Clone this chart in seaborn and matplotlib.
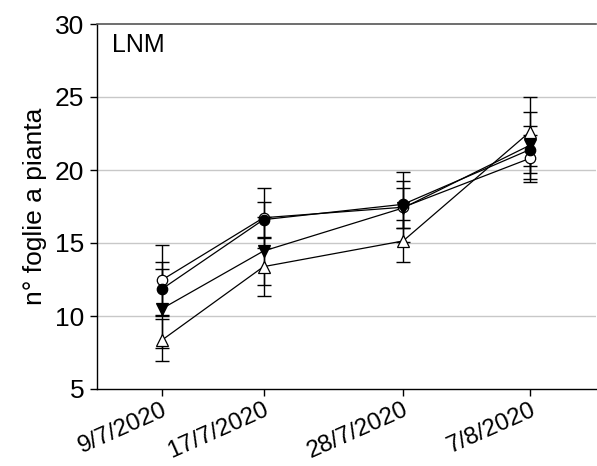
import matplotlib
matplotlib.use("Agg")
import matplotlib.pyplot as plt
import matplotlib.dates as mdates
import seaborn as sns
import pandas as pd
import numpy as np

# ---- data ----
dates = ["2020-07-09", "2020-07-17", "2020-07-28", "2020-08-07"]
tick_labels = ["9/7/2020", "17/7/2020", "28/7/2020", "7/8/2020"]

open_circle = [12.47, 16.73, 17.45, 20.8]
open_circle_err = [2.4, 2.07, 2.4, 1.6]
filled_circle = [11.85, 16.6, 17.65, 21.4]
filled_circle_err = [1.85, 1.23, 1.6, 1.6]
down_triangle = [10.5, 14.45, 17.4, 21.7]
down_triangle_err = [2.7, 2.35, 1.4, 2.3]
up_triangle = [8.35, 13.38, 15.14, 22.62]
up_triangle_err = [1.45, 2.0, 1.42, 2.35]

ylabel = "n° foglie a pianta"
panel_label = "LNM"

sns.set_style("ticks")
plt.rcParams["font.family"] = ["Liberation Sans", "DejaVu Sans"]
plt.rcParams["text.color"] = "black"
plt.rcParams["axes.labelcolor"] = "black"
plt.rcParams["xtick.color"] = "black"
plt.rcParams["ytick.color"] = "black"

x = pd.to_datetime(dates)
series = [
    ("oc", open_circle, open_circle_err, "o", "white"),
    ("ut", up_triangle, up_triangle_err, "^", "white"),
    ("dt", down_triangle, down_triangle_err, "v", "black"),
    ("fc", filled_circle, filled_circle_err, "o", "black"),
]

rows = []
for name, vals, err, m, fc in series:
    for d, v in zip(x, vals):
        rows.append({"date": d, "value": v, "series": name})
df = pd.DataFrame(rows)

fig = plt.figure(figsize=(5.97, 4.66), dpi=100)
ax = fig.add_axes([97 / 597, 1 - 389 / 466, 499 / 597, (389 - 24) / 466])

for yv in [10, 15, 20, 25]:
    ax.axhline(yv, color="#c8c8c8", lw=1.0, zorder=0)

sns.lineplot(data=df, x="date", y="value", units="series", estimator=None,
             color="black", lw=0.9, ax=ax, zorder=2, legend=False)

order_z = {"oc": 3, "ut": 4, "dt": 6, "fc": 5}
for name, vals, err, m, fc in series:
    ax.errorbar(x, vals, yerr=err, fmt="none", ecolor="black", elinewidth=1.0,
                capsize=5, capthick=1.0, zorder=2.5)
    ax.plot(x, vals, linestyle="none", marker=m, markersize=7.5 if m == "o" else 8,
            markerfacecolor=fc, markeredgecolor="black", markeredgewidth=0.9,
            zorder=order_z[name])

ax.set_ylim(5, 30)
ax.set_yticks([5, 10, 15, 20, 25, 30])
x0 = pd.Timestamp("2020-07-09")
ax.set_xlim(mdates.date2num(x0) - 5.12, mdates.date2num(x0) + 34.2)
ax.set_xticks(mdates.date2num(x))
ax.set_xticklabels(tick_labels, rotation=24, ha="right", rotation_mode="anchor")

ax.set_ylabel(ylabel, fontsize=19, labelpad=6)
ax.set_xlabel("")
ax.tick_params(axis="both", direction="out", length=5, width=1, color="black",
               pad=4)
ax.tick_params(axis="y", labelsize=19)
ax.tick_params(axis="x", labelsize=17.5, pad=2)

for s in ["left", "bottom"]:
    ax.spines[s].set_color("black")
    ax.spines[s].set_linewidth(1.0)
ax.spines["right"].set_visible(False)
ax.spines["top"].set_visible(True)
ax.spines["top"].set_color("#555555")
ax.spines["top"].set_linewidth(1.2)

ax.text(0.03, 0.975, panel_label, transform=ax.transAxes, fontsize=18,
        ha="left", va="top")

fig.savefig("out.png", dpi=100)
